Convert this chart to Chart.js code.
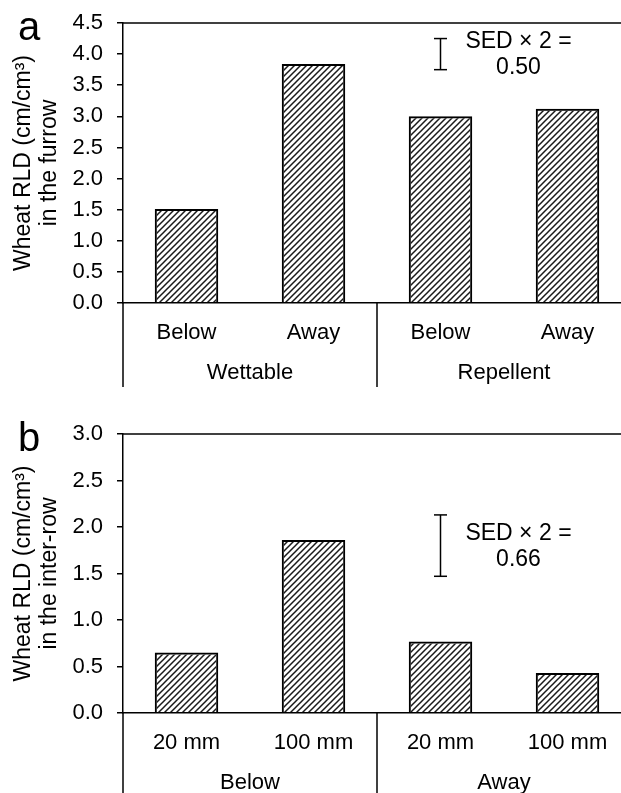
<!DOCTYPE html>
<html>
<head>
<meta charset="utf-8">
<script src="https://cdn.jsdelivr.net/npm/chart.js@4.4.1/dist/chart.umd.min.js"></script>
<style>
  html, body { margin: 0; padding: 0; background: #fff; overflow: hidden; }
  body { width: 621px; height: 793px; position: relative; }
  canvas { position: absolute; left: 0; }
  #chartA { top: 0; }
  #chartB { top: 397px; }
</style>
</head>
<body>
<canvas id="chartA" width="640" height="397"></canvas>
<canvas id="chartB" width="640" height="396"></canvas>
<script>
// panel a - RLD in the furrow
const furrowLabels = ['Below', 'Away', 'Below', 'Away'];
const furrowGroups = ['Wettable', 'Repellent'];
const furrowValues = [1.51, 3.84, 3.00, 3.12];
const furrowTicks = [0, 0.5, 1.0, 1.5, 2.0, 2.5, 3.0, 3.5, 4.0, 4.5];
const furrowSed = 0.50;
const furrowSedMid = 4.0;

// panel b - RLD in the inter-row
const interLabels = ['20 mm', '100 mm', '20 mm', '100 mm'];
const interGroups = ['Below', 'Away'];
const interValues = [0.65, 1.86, 0.77, 0.43];
const interTicks = [0, 0.5, 1.0, 1.5, 2.0, 2.5, 3.0];
const interSed = 0.66;
const interSedMid = 1.80;

const FONT = '"Liberation Sans", Arial, sans-serif';

// diagonal hatch used by every bar
function makeHatch() {
  const c = document.createElement('canvas');
  c.width = 6; c.height = 6;
  const g = c.getContext('2d');
  g.strokeStyle = '#1a1a1a';
  g.lineWidth = 1.5;
  g.beginPath();
  g.moveTo(-1, 7); g.lineTo(7, -1);
  g.moveTo(-1, 1); g.lineTo(1, -1);
  g.moveTo(5, 7); g.lineTo(7, 5);
  g.stroke();
  return g.createPattern(c, 'repeat');
}
const hatch = makeHatch();

const decorations = {
  id: 'decorations',
  afterDraw(chart, args, opts) {
    const { ctx, chartArea: a, scales: { x, y } } = chart;
    const line = (x1, y1, x2, y2) => {
      ctx.beginPath(); ctx.moveTo(x1, y1); ctx.lineTo(x2, y2); ctx.stroke();
    };
    ctx.save();
    ctx.strokeStyle = '#000';
    ctx.fillStyle = '#000';
    ctx.lineWidth = 1.5;

    // top edge of the plot
    line(a.left, a.top, a.right, a.top);

    // separators of the grouped category axis
    const drop = a.bottom + 84;
    const split = (x.getPixelForValue(1) + x.getPixelForValue(2)) / 2;
    line(a.left, a.bottom, a.left, drop);
    line(split, a.bottom, split, drop);
    line(a.right, a.bottom, a.right, drop);

    ctx.font = '22px ' + FONT;
    ctx.textAlign = 'center';
    ctx.textBaseline = 'middle';
    ctx.fillText(opts.groups[0], (x.getPixelForValue(0) + x.getPixelForValue(1)) / 2, a.bottom + 70);
    ctx.fillText(opts.groups[1], (x.getPixelForValue(2) + x.getPixelForValue(3)) / 2, a.bottom + 70);

    // y title, two lines
    ctx.save();
    ctx.translate(24, (a.top + a.bottom) / 2);
    ctx.rotate(-Math.PI / 2);
    ctx.font = '23px ' + FONT;
    ctx.fillText(opts.title[0], 0, 0);
    ctx.fillText(opts.title[1], 0, 26);
    ctx.restore();

    // panel letter
    ctx.font = '40px ' + FONT;
    ctx.textAlign = 'left';
    ctx.textBaseline = 'alphabetic';
    ctx.fillText(opts.letter, 18, a.top + 17);

    // SED x 2 bar
    const sx = x.getPixelForValue(2);
    const yTop = y.getPixelForValue(opts.sedMid + opts.sed / 2);
    const yBot = y.getPixelForValue(opts.sedMid - opts.sed / 2);
    const yMid = (yTop + yBot) / 2;
    line(sx, yTop, sx, yBot);
    line(sx - 6.5, yTop, sx + 6.5, yTop);
    line(sx - 6.5, yBot, sx + 6.5, yBot);
    ctx.font = '23px ' + FONT;
    ctx.textAlign = 'center';
    ctx.textBaseline = 'middle';
    ctx.fillText('SED \u00d7 2 =', sx + 78, yMid - 12);
    ctx.fillText(opts.sed.toFixed(2), sx + 78, yMid + 14);
    ctx.restore();
  }
};

function makeChart(id, labels, values, ticks, extra) {
  const canvas = document.getElementById(id);
  return new Chart(canvas.getContext('2d'), {
    type: 'bar',
    data: {
      labels: labels,
      datasets: [{
        data: values,
        backgroundColor: hatch,
        borderColor: '#000',
        borderWidth: 2,
        barPercentage: 0.5,
        categoryPercentage: 1.0
      }]
    },
    options: {
      responsive: false,
      animation: false,
      devicePixelRatio: window.devicePixelRatio || 1,
      layout: { padding: { top: extra.top, right: 9, left: 0, bottom: 0 } },
      plugins: {
        legend: { display: false },
        tooltip: { enabled: false },
        decorations: extra
      },
      scales: {
        x: {
          grid: { display: false },
          border: { display: true, color: '#000', width: 1.5 },
          ticks: { color: '#000', font: { family: FONT, size: 22, lineHeight: 1 }, padding: 11, maxRotation: 0 },
          afterFit: (scale) => {
            scale.height = canvas.height - extra.top - extra.plotHeight;
            scale.paddingLeft = 0; scale.paddingRight = 0;
          }
        },
        y: {
          min: ticks[0],
          max: ticks[ticks.length - 1],
          afterBuildTicks: (scale) => { scale.ticks = ticks.map(v => ({ value: v })); },
          grid: { drawOnChartArea: false, drawTicks: true, tickLength: 6, color: '#000', lineWidth: 1.5 },
          border: { display: true, color: '#000', width: 1.5 },
          ticks: {
            color: '#000',
            font: { family: FONT, size: 22, lineHeight: 1 },
            padding: 14,
            callback: (v) => Number(v).toFixed(1)
          },
          afterFit: (scale) => {
            scale.width = 123;
            scale.paddingTop = 0; scale.paddingBottom = 0;
          }
        }
      }
    },
    plugins: [decorations]
  });
}

makeChart('chartA', furrowLabels, furrowValues, furrowTicks, {
  top: 23, plotHeight: 280, letter: 'a',
  groups: furrowGroups,
  title: ['Wheat RLD (cm/cm\u00b3)', 'in the furrow'],
  sed: furrowSed, sedMid: furrowSedMid
});

makeChart('chartB', interLabels, interValues, interTicks, {
  top: 37, plotHeight: 279, letter: 'b',
  groups: interGroups,
  title: ['Wheat RLD (cm/cm\u00b3)', 'in the inter-row'],
  sed: interSed, sedMid: interSedMid
});
</script>
</body>
</html>
